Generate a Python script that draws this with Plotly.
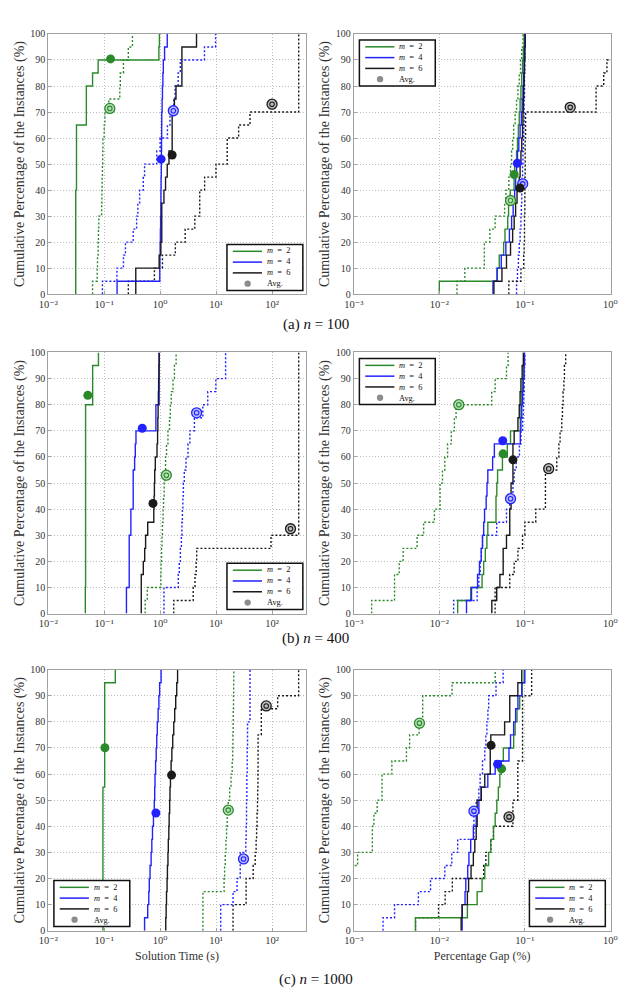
import plotly.graph_objects as go

# ---------------- data ----------------
# "a" = solid curves, "b" = dotted curves; each list = 20 instances
# n = 100, solution time (s)
t100_a_m2 = [0.031,0.031,0.031,0.031,0.031,0.031,0.031,0.031,0.032,0.032,0.032,0.032,0.032,0.048,0.048,0.048,0.062,0.078,0.95,0.97]
t100_a_m4 = [0.17,0.985,0.99,1.0,1.01,1.02,1.03,1.035,1.04,1.05,1.055,1.06,1.065,1.07,1.085,1.10,1.12,1.14,1.2,1.34]
t100_a_m6 = [0.367,0.367,0.96,1.03,1.07,1.07,1.07,1.17,1.25,1.34,1.44,1.64,1.64,1.64,1.80,1.92,2.45,2.45,2.45,4.47]
t100_b_m2 = [0.062,0.075,0.076,0.078,0.079,0.080,0.090,0.091,0.092,0.093,0.094,0.095,0.10,0.103,0.121,0.19,0.194,0.221,0.27,0.32]
t100_b_m4 = [0.093,0.169,0.221,0.24,0.33,0.38,0.40,0.43,0.50,0.527,0.87,1.0,1.35,1.5,1.75,1.85,2.1,2.29,6.2,9.8]
t100_b_m6 = [0.27,0.79,1.1,1.87,2.8,4.17,5.1,5.1,6.24,9.95,15.8,15.8,25.3,40.4,300,300,300,300,300,300]
t100_avg_a_x = [0.13, 1.04, 1.64]
t100_avg_a_y = [90.4, 51.9, 53.5]
t100_avg_b_x = [0.126, 1.72, 100]
t100_avg_b_y = [71.4, 70.5, 73.0]

# n = 100, percentage gap (%)
g100_a_m2 = [0.0100,0.0474,0.0502,0.0565,0.0586,0.0631,0.0645,0.0675,0.0748,0.076,0.080,0.082,0.084,0.086,0.088,0.090,0.092,0.094,0.096,0.098]
g100_a_m4 = [0.0424,0.0474,0.053,0.060,0.066,0.070,0.073,0.076,0.078,0.080,0.082,0.085,0.088,0.091,0.093,0.095,0.097,0.098,0.099,0.100]
g100_a_m6 = [0.0435,0.054,0.061,0.068,0.072,0.075,0.078,0.081,0.086,0.088,0.090,0.092,0.094,0.095,0.096,0.097,0.098,0.099,0.100,0.101]
g100_b_m2 = [0.0161,0.0199,0.0336,0.0336,0.039,0.0449,0.058,0.060,0.065,0.068,0.070,0.072,0.074,0.077,0.080,0.083,0.086,0.089,0.092,0.095]
g100_b_m4 = [0.080,0.082,0.084,0.086,0.088,0.090,0.091,0.092,0.093,0.094,0.095,0.096,0.097,0.098,0.098,0.099,0.099,0.100,0.100,0.101]
g100_b_m6 = [0.065,0.090,0.097,0.098,0.099,0.099,0.100,0.100,0.100,0.101,0.101,0.101,0.102,0.102,0.68,0.68,0.835,0.91,1.5,2.0]
g100_avg_a_x = [0.075, 0.0817, 0.0878]
g100_avg_a_y = [46.0, 50.3, 40.8]
g100_avg_b_x = [0.068, 0.0944, 0.339]
g100_avg_b_y = [36.0, 42.4, 71.8]

# n = 400, solution time (s)
t400_a_m2 = [0.046,0.046,0.0465,0.0465,0.0465,0.0465,0.0465,0.0465,0.0465,0.0465,0.0465,0.0465,0.0465,0.0465,0.0465,0.0465,0.0622,0.0622,0.0622,0.079]
t400_a_m4 = [0.25,0.25,0.28,0.28,0.28,0.28,0.30,0.30,0.33,0.33,0.33,0.35,0.36,0.37,0.84,0.84,0.96,0.96,0.96,0.96]
t400_a_m6 = [0.46,0.46,0.46,0.50,0.53,0.55,0.60,0.77,0.78,0.79,0.80,0.82,0.88,0.90,0.91,0.92,0.93,0.94,0.95,0.96]
t400_b_m2 = [0.54,0.59,1.03,1.04,1.06,1.08,1.10,1.13,1.15,1.18,1.21,1.25,1.30,1.38,1.47,1.52,1.58,1.70,1.80,1.93]
t400_b_m4 = [1.17,1.17,2.11,2.2,2.3,2.4,2.45,2.5,2.55,2.6,2.7,2.9,3.15,3.4,4.1,5.8,7.1,9.9,14.8,14.8]
t400_b_m6 = [1.75,3.9,4.2,4.4,4.5,96,300,300,300,300,300,300,300,300,300,300,300,300,300,300]
t400_avg_a_x = [0.051, 0.479, 0.745]
t400_avg_a_y = [83.6, 71.0, 42.2]
t400_avg_b_x = [1.29, 4.49, 214]
t400_avg_b_y = [53.0, 76.9, 32.5]

# n = 400, percentage gap (%)
g400_a_m2 = [0.0164,0.0233,0.0316,0.033,0.0345,0.036,0.0369,0.046,0.046,0.047,0.048,0.0547,0.0624,0.068,0.0885,0.090,0.092,0.094,0.096,0.098]
g400_a_m4 = [0.0208,0.0238,0.028,0.0295,0.0309,0.032,0.033,0.0338,0.0353,0.0361,0.0369,0.042,0.044,0.0885,0.090,0.092,0.094,0.096,0.098,0.099]
g400_a_m6 = [0.0411,0.0469,0.0511,0.0558,0.0558,0.061,0.0666,0.0666,0.069,0.069,0.0726,0.0726,0.0726,0.075,0.083,0.086,0.088,0.090,0.093,0.096]
g400_b_m2 = [0.00162,0.0030,0.0030,0.0034,0.00378,0.0055,0.00656,0.00877,0.0102,0.0102,0.0109,0.0116,0.0125,0.0138,0.015,0.0157,0.041,0.045,0.061,0.0637]
g400_b_m4 = [0.0147,0.0277,0.029,0.030,0.031,0.032,0.0469,0.061,0.0666,0.0726,0.075,0.0792,0.0864,0.090,0.0944,0.096,0.097,0.098,0.099,0.100]
g400_b_m6 = [0.0449,0.0449,0.0666,0.075,0.083,0.094,0.100,0.134,0.174,0.174,0.174,0.236,0.25,0.258,0.27,0.275,0.28,0.286,0.29,0.30]
g400_avg_a_x = [0.0556, 0.0552, 0.0726]
g400_avg_a_y = [61.2, 66.2, 58.9]
g400_avg_b_x = [0.0169, 0.068, 0.19]
g400_avg_b_y = [80.0, 44.0, 55.5]

# n = 1000, solution time (s)
t1000_a_m2 = [0.095,0.095,0.095,0.095,0.095,0.095,0.095,0.095,0.095,0.095,0.095,0.102,0.102,0.102,0.102,0.102,0.102,0.102,0.102,0.158]
t1000_a_m4 = [0.527,0.60,0.627,0.64,0.66,0.69,0.71,0.73,0.76,0.787,0.80,0.81,0.83,0.85,0.87,0.89,0.92,0.95,0.98,1.04]
t1000_a_m6 = [1.26,1.28,1.30,1.33,1.35,1.38,1.40,1.43,1.45,1.48,1.50,1.53,1.57,1.62,1.68,1.75,1.82,1.90,1.98,2.05]
t1000_b_m2 = [5.82,5.82,5.82,13.9,14.2,14.6,15.0,15.4,15.8,16.5,17.5,18.5,19.4,19.8,20.0,20.2,20.3,20.5,20.6,20.7]
t1000_b_m4 = [12.1,12.1,20.1,23.7,27,27,34,34.5,35,35,35.5,35.5,36,36,36.5,36.5,40.4,40.4,40.4,40.4]
t1000_b_m6 = [20.1,20.1,34.4,34.4,46,50,52,53,54,55,55.5,56,56.3,56.3,56.3,64.3,64.3,126,299,299]
t1000_avg_a_x = [0.103, 0.84, 1.60]
t1000_avg_a_y = [70.1, 45.1, 59.6]
t1000_avg_b_x = [16.5, 30.9, 78.7]
t1000_avg_b_y = [46.2, 27.5, 86.1]

# n = 1000, percentage gap (%)
g1000_a_m2 = [0.00527,0.0213,0.0277,0.0316,0.034,0.0377,0.040,0.043,0.045,0.047,0.049,0.051,0.053,0.056,0.074,0.077,0.081,0.087,0.093,0.098]
g1000_a_m4 = [0.0185,0.0185,0.020,0.0204,0.0215,0.0222,0.0233,0.025,0.027,0.029,0.0309,0.0369,0.045,0.0652,0.068,0.074,0.078,0.083,0.092,0.100]
g1000_a_m6 = [0.018,0.0185,0.0213,0.022,0.0235,0.025,0.026,0.027,0.0277,0.0277,0.0309,0.034,0.0394,0.0394,0.040,0.058,0.0666,0.0666,0.0828,0.092]
g1000_b_m2 = [0.0005,0.0006,0.0007,0.0008,0.0009,0.00111,0.00165,0.00165,0.00172,0.00188,0.00214,0.00214,0.00279,0.00413,0.0045,0.0058,0.0064,0.0064,0.0141,0.045]
g1000_b_m4 = [0.0022,0.003,0.0057,0.0079,0.0116,0.014,0.0164,0.0254,0.0254,0.027,0.029,0.030,0.032,0.034,0.035,0.036,0.037,0.0378,0.046,0.0557]
g1000_b_m6 = [0.00527,0.0098,0.0117,0.0142,0.033,0.035,0.040,0.043,0.0725,0.0725,0.0828,0.0828,0.0828,0.094,0.094,0.094,0.094,0.094,0.12,0.12]
g1000_avg_a_x = [0.0535, 0.048, 0.0403]
g1000_avg_a_y = [62.0, 63.8, 71.0]
g1000_avg_b_x = [0.00586, 0.0254, 0.0653]
g1000_avg_b_y = [79.5, 45.8, 43.6]

series_labels = ["<i>m</i>\u2002=\u20022", "<i>m</i>\u2002=\u20024", "<i>m</i>\u2002=\u20026"]
avg_label = "Avg."
time_tickvals = [0.01, 0.1, 1, 10, 100]
time_ticktext = ["10\u207b\u00b2", "10\u207b\u00b9", "10\u2070", "10\u00b9", "10\u00b2"]
gap_tickvals = [0.001, 0.01, 0.1, 1]
gap_ticktext = ["10\u207b\u00b3", "10\u207b\u00b2", "10\u207b\u00b9", "10\u2070"]
y_tickvals = [0, 10, 20, 30, 40, 50, 60, 70, 80, 90, 100]
captions = ["(a) <i>n</i> = 100", "(b) <i>n</i> = 400", "(c) <i>n</i> = 1000"]
y_title = "Cumulative Percentage of the Instances (%)"
x_titles = ["Solution Time (s)", "Percentage Gap (%)"]

# ---------------- style ----------------
SERIF = "Liberation Serif, DejaVu Serif, serif"
COLORS = ["#2a8a2a", "#2222ff", "#1a1a1a"]
TINTS = ["#b9dfb9", "#b9bcff", "#bdbdbd"]
AVG_GREY = "#8c8c8c"
FRAME = "#a0a0a0"
GRID = "#bdbdbd"
LEG_FS = 8.4
LINE_GAP = 1.3 * LEG_FS  # plotly annotation line spacing

W, H = 628, 999
COL_X = [(39.3, 304.0), (353.3, 617.3)]
ROW_Y = [(28.3, 291.7), (350.7, 615.0), (671.7, 936.0)]

panels = [
    # row, col, curves a, curves b, avg a x/y, avg b x/y, legend (left, anchor edge, anchor value)
    (0, 0, [t100_a_m2, t100_a_m4, t100_a_m6], [t100_b_m2, t100_b_m4, t100_b_m6],
     t100_avg_a_x, t100_avg_a_y, t100_avg_b_x, t100_avg_b_y, (0.694, "bottom", 0.014)),
    (0, 1, [g100_a_m2, g100_a_m4, g100_a_m6], [g100_b_m2, g100_b_m4, g100_b_m6],
     g100_avg_a_x, g100_avg_a_y, g100_avg_b_x, g100_avg_b_y, (0.022, "top", 0.977)),
    (1, 0, [t400_a_m2, t400_a_m4, t400_a_m6], [t400_b_m2, t400_b_m4, t400_b_m6],
     t400_avg_a_x, t400_avg_a_y, t400_avg_b_x, t400_avg_b_y, (0.694, "bottom", 0.016)),
    (1, 1, [g400_a_m2, g400_a_m4, g400_a_m6], [g400_b_m2, g400_b_m4, g400_b_m6],
     g400_avg_a_x, g400_avg_a_y, g400_avg_b_x, g400_avg_b_y, (0.022, "top", 0.977)),
    (2, 0, [t1000_a_m2, t1000_a_m4, t1000_a_m6], [t1000_b_m2, t1000_b_m4, t1000_b_m6],
     t1000_avg_a_x, t1000_avg_a_y, t1000_avg_b_x, t1000_avg_b_y, (0.022, "bottom", 0.016)),
    (2, 1, [g1000_a_m2, g1000_a_m4, g1000_a_m6], [g1000_b_m2, g1000_b_m4, g1000_b_m6],
     g1000_avg_a_x, g1000_avg_a_y, g1000_avg_b_x, g1000_avg_b_y, (0.684, "bottom", 0.016)),
]


def ecdf(vals):
    v = sorted(vals)
    n = len(v)
    xs = [v[0]] + v
    ys = [0.0] + [100.0 * (i + 1) / n for i in range(n)]
    return xs, ys


fig = go.Figure()
layout = {}
shapes = []
annotations = []

for k, (r, c, ca, cb, aax, aay, abx, aby, leg) in enumerate(panels):
    idx = "" if k == 0 else str(k + 1)
    xa, ya = "x" + idx, "y" + idx
    for j, vals in enumerate(cb):
        xs, ys = ecdf(vals)
        fig.add_trace(go.Scatter(x=xs, y=ys, mode="lines", xaxis=xa, yaxis=ya,
                                 line=dict(color=COLORS[j], width=1.4, shape="hv", dash="2px,2px"),
                                 showlegend=False, hoverinfo="skip"))
    for j, vals in enumerate(ca):
        xs, ys = ecdf(vals)
        fig.add_trace(go.Scatter(x=xs, y=ys, mode="lines", xaxis=xa, yaxis=ya,
                                 line=dict(color=COLORS[j], width=1.4, shape="hv"),
                                 showlegend=False, hoverinfo="skip"))
    fig.add_trace(go.Scatter(x=abx, y=aby, mode="markers", xaxis=xa, yaxis=ya,
                             marker=dict(symbol="circle", size=10, color=TINTS,
                                         line=dict(color=COLORS, width=1.3)),
                             showlegend=False, hoverinfo="skip", cliponaxis=False))
    fig.add_trace(go.Scatter(x=abx, y=aby, mode="markers", xaxis=xa, yaxis=ya,
                             marker=dict(symbol="circle-open", size=4.5, color=COLORS,
                                         line=dict(color=COLORS, width=1.1)),
                             showlegend=False, hoverinfo="skip", cliponaxis=False))
    fig.add_trace(go.Scatter(x=aax, y=aay, mode="markers", xaxis=xa, yaxis=ya,
                             marker=dict(symbol="circle", size=9, color=COLORS),
                             showlegend=False, hoverinfo="skip", cliponaxis=False))

    x0p, x1p = COL_X[c]
    y0p, y1p = ROW_Y[r]
    is_time = (c == 0)
    axis_common = dict(showline=True, mirror=True, linecolor=FRAME, linewidth=1,
                       showgrid=True, gridcolor=GRID, griddash="1px,2px", gridwidth=1,
                       zeroline=False, ticks="inside", ticklen=3, tickcolor=FRAME,
                       tickfont=dict(family=SERIF, size=10.5, color="#333"))
    xdef = dict(
        axis_common, type="log", anchor=ya,
        domain=[x0p / W, x1p / W],
        range=[-2, 2.603] if is_time else [-3, 0.002],
        tickvals=time_tickvals if is_time else gap_tickvals,
        ticktext=time_ticktext if is_time else gap_ticktext,
    )
    if r == 2:
        xdef["title"] = dict(text=x_titles[c], font=dict(family=SERIF, size=12, color="#333"),
                             standoff=6)
    layout["xaxis" + idx] = xdef
    layout["yaxis" + idx] = dict(
        axis_common, anchor=xa,
        domain=[1 - y1p / H, 1 - y0p / H],
        range=[0, 100], tickvals=y_tickvals,
        tickfont=dict(family=SERIF, size=10, color="#333"),
        title=dict(text=y_title, font=dict(family=SERIF, size=14, color="#333"), standoff=2),
    )

    # ---- in-panel legend box ----
    pw, ph = x1p - x0p, y1p - y0p
    bx, edge, ev = leg
    bh_px = 4 * LINE_GAP + 3
    bw, bh = 78 / pw, bh_px / ph
    by = ev if edge == "bottom" else ev - bh
    xr, yr = xa + " domain", ya + " domain"
    shapes.append(dict(type="rect", xref=xr, yref=yr, x0=bx, x1=bx + bw, y0=by, y1=by + bh,
                       line=dict(color="#111", width=1.5), fillcolor="white", layer="above"))
    yc = by + bh / 2
    for j in range(4):
        yy = yc + (1.5 - j) * LINE_GAP / ph
        if j < 3:
            shapes.append(dict(type="line", xref=xr, yref=yr, x0=bx + 6 / pw, x1=bx + 36 / pw,
                               y0=yy, y1=yy, line=dict(color=COLORS[j], width=1.5), layer="above"))
        else:
            shapes.append(dict(type="circle", xref=xr, yref=yr,
                               x0=bx + 18 / pw, x1=bx + 24.5 / pw, y0=yy - 3.2 / ph, y1=yy + 3.2 / ph,
                               line=dict(color=AVG_GREY, width=0), fillcolor=AVG_GREY, layer="above"))
    annotations.append(dict(xref=xr, yref=yr, x=bx + 40 / pw, y=yc,
                            text="<br>".join(series_labels + [avg_label]),
                            xanchor="left", yanchor="middle", align="left", showarrow=False,
                            borderpad=0, font=dict(family=SERIF, size=LEG_FS, color="#111")))

cap_y = [322, 640, 985]
for t, yy in zip(captions, cap_y):
    annotations.append(dict(xref="paper", yref="paper", x=0.5, y=1 - yy / H, text=t,
                            xanchor="center", yanchor="middle", showarrow=False,
                            font=dict(family=SERIF, size=15, color="#111")))

fig.update_layout(**layout)
fig.update_layout(
    width=W, height=H, margin=dict(l=0, r=0, t=0, b=0),
    paper_bgcolor="white", plot_bgcolor="white",
    showlegend=False, shapes=shapes, annotations=annotations,
)

fig.write_html("out.html")
